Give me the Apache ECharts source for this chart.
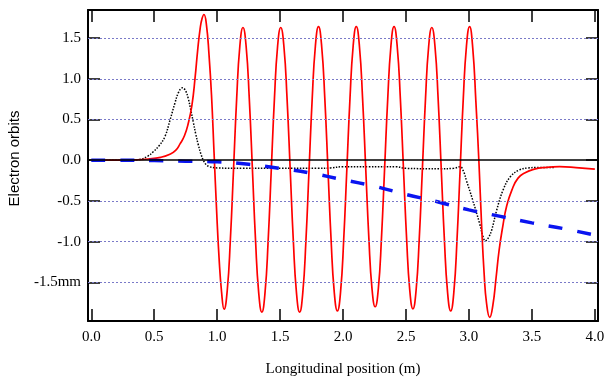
<!DOCTYPE html>
<html>
<head>
<meta charset="utf-8">
<script src="https://cdn.jsdelivr.net/npm/echarts@6/dist/echarts.min.js"></script>
<style>html,body{margin:0;padding:0;background:#fff;}#chart{width:605px;height:378px;}</style>
</head>
<body>
<div id="chart"></div>
<script>
// Tick values
const xTicks = [0, 0.5, 1.0, 1.5, 2.0, 2.5, 3.0, 3.5, 4.0];
const yTicks = [-1.5, -1.0, -0.5, 0, 0.5, 1.0, 1.5];
const gridLevels = [-1.5, -1.0, -0.5, 0.5, 1.0, 1.5];

// Red solid orbit
const redX = [0.00,0.20,0.35,0.45,0.55,0.62,0.67,0.705,0.74,0.77,0.80,0.825,0.845,0.865,0.88,0.895,
  0.915,0.935,0.955,0.975,0.995,1.015,1.035,1.055,
  1.08,1.105,1.13,1.155,1.18,1.205,1.23,1.255,1.28,1.305,1.33,1.355,
  1.38,1.405,1.43,1.455,1.48,1.505,1.53,1.555,1.58,1.605,1.63,1.655,
  1.68,1.705,1.73,1.755,1.78,1.805,1.83,1.855,1.88,1.905,1.93,1.955,
  1.98,2.005,2.03,2.055,2.08,2.105,2.13,2.155,2.18,2.205,2.23,2.255,
  2.28,2.305,2.33,2.355,2.38,2.405,2.43,2.455,2.48,2.505,2.53,2.555,
  2.58,2.605,2.63,2.655,2.68,2.705,2.73,2.755,2.78,2.805,2.83,2.855,
  2.88,2.905,2.93,2.955,2.98,3.005,3.03,3.055,3.08,3.10,3.12,3.14,3.165,
  3.19,3.215,3.24,3.27,3.30,3.34,3.39,3.45,3.52,3.60,3.72,3.85,4.00];
const redY = [0,0,0.005,0.015,0.035,0.07,0.12,0.20,0.30,0.45,0.68,1.02,1.35,1.62,1.74,1.79,
  1.66,1.30,0.80,0.10,-0.60,-1.20,-1.62,-1.83,
  -1.60,-0.97,-0.11,0.76,1.40,1.63,1.40,0.76,-0.11,-0.99,-1.63,-1.865,
  -1.63,-0.99,-0.11,0.76,1.40,1.63,1.40,0.76,-0.11,-0.99,-1.63,-1.865,
  -1.63,-0.99,-0.11,0.76,1.40,1.64,1.40,0.76,-0.11,-0.98,-1.62,-1.85,
  -1.62,-0.98,-0.11,0.76,1.40,1.64,1.40,0.76,-0.10,-0.96,-1.58,-1.80,
  -1.58,-0.96,-0.10,0.76,1.40,1.64,1.40,0.76,-0.11,-0.97,-1.60,-1.825,
  -1.60,-0.97,-0.11,0.76,1.40,1.63,1.40,0.76,-0.11,-0.98,-1.62,-1.85,
  -1.62,-0.98,-0.11,0.76,1.40,1.64,1.38,0.72,-0.05,-0.78,-1.38,-1.76,-1.93,
  -1.78,-1.45,-1.10,-0.80,-0.56,-0.37,-0.22,-0.15,-0.11,-0.09,-0.08,-0.09,-0.11];

// Black dotted orbit
const dotX = [0,0.30,0.386,0.45,0.49,0.54,0.585,0.625,0.664,0.695,0.725,0.75,0.77,0.79,0.81,0.83,0.85,0.87,0.89,0.91,0.94,
  1.0,1.2,1.5,1.8,1.9,2.0,2.2,2.42,2.5,2.77,2.88,2.93,2.96,2.98,3.03,3.085,3.11,3.13,3.155,3.18,3.22,3.27,3.33,3.40,3.47,3.535,3.68];
const dotY = [0,0,0.01,0.05,0.10,0.18,0.29,0.49,0.70,0.84,0.89,0.85,0.76,0.62,0.47,0.32,0.19,0.08,0.0,-0.05,-0.08,
  -0.095,-0.10,-0.10,-0.10,-0.095,-0.08,-0.08,-0.08,-0.10,-0.105,-0.10,-0.08,-0.15,-0.25,-0.49,-0.78,-0.93,-0.99,-0.95,-0.86,-0.615,-0.37,-0.20,-0.12,-0.095,-0.09,-0.09];

// Blue dashed orbit
const blueX = [0,0.25,0.5,0.75,1.0,1.25,1.5,1.75,2.0,2.25,2.5,2.75,3.0,3.25,3.5,3.75,4.0];
const blueY = [0,0,-0.005,-0.012,-0.02,-0.05,-0.10,-0.16,-0.24,-0.32,-0.42,-0.51,-0.61,-0.69,-0.77,-0.84,-0.92];

const zip = (xs, ys) => xs.map((x, i) => [x, ys[i]]);

const serif = 'Liberation Serif';
const chart = echarts.init(document.getElementById('chart'));
const tickStyle = { color: '#000', width: 1.5 };
chart.setOption({
  animation: false,
  backgroundColor: '#fff',
  grid: { left: 88, right: 7, top: 10, bottom: 57, containLabel: false, outerBoundsMode: 'none' },
  xAxis: [{
    type: 'value', min: -0.026, max: 4.025, position: 'bottom',
    name: 'Longitudinal position (m)', nameLocation: 'middle', nameGap: 41,
    nameTextStyle: { fontFamily: serif, fontSize: 15, color: '#000' },
    axisLine: { show: true, onZero: false, lineStyle: { color: '#000', width: 2 } },
    axisTick: { show: true, inside: true, length: 12, customValues: xTicks, lineStyle: tickStyle },
    axisLabel: { show: true, customValues: xTicks, margin: 9, fontFamily: serif, fontSize: 15, color: '#000',
      formatter: v => v.toFixed(1) },
    splitLine: { show: false }
  }, {
    type: 'value', min: -0.026, max: 4.025, position: 'top',
    axisLine: { show: true, onZero: false, lineStyle: { color: '#000', width: 2 } },
    axisTick: { show: true, inside: true, length: 12, customValues: xTicks, lineStyle: tickStyle },
    axisLabel: { show: false }, splitLine: { show: false }
  }],
  yAxis: [{
    type: 'value', min: -1.975, max: 1.845, position: 'left',
    name: 'Electron orbits', nameLocation: 'middle', nameGap: 66,
    nameTextStyle: { fontFamily: 'Liberation Sans', fontSize: 15, color: '#000', padding: [0, 0, 0, 14] },
    axisLine: { show: true, onZero: false, lineStyle: { color: '#000', width: 2 } },
    axisTick: { show: true, inside: true, length: 12, customValues: yTicks, lineStyle: tickStyle },
    axisLabel: { show: true, customValues: yTicks, margin: 7, fontFamily: serif, fontSize: 15, color: '#000',
      formatter: v => (Math.abs(v + 1.5) < 1e-9 ? '-1.5mm' : v.toFixed(1)) },
    splitLine: { show: false }
  }, {
    type: 'value', min: -1.975, max: 1.845, position: 'right',
    axisLine: { show: true, onZero: false, lineStyle: { color: '#000', width: 2 } },
    axisTick: { show: true, inside: true, length: 12, customValues: yTicks, lineStyle: tickStyle },
    axisLabel: { show: false }, splitLine: { show: false }
  }],
  series: [{
    type: 'line', data: [], silent: true, z: 1,
    markLine: {
      silent: true, symbol: 'none', label: { show: false },
      data: gridLevels.map(v => ({ yAxis: v, lineStyle: { color: '#7a7ac8', width: 1, type: [2, 2] } }))
        .concat([{ yAxis: 0, lineStyle: { color: '#000', width: 1.5, type: 'solid' } }])
    }
  }, {
    name: 'dotted', type: 'line', data: zip(dotX, dotY), showSymbol: false, smooth: 0.4, z: 2,
    lineStyle: { color: '#000', width: 1.5, type: [1.5, 1.5] }
  }, {
    name: 'red', type: 'line', data: zip(redX, redY), showSymbol: false, smooth: 0.5, z: 3,
    lineStyle: { color: '#ff0000', width: 1.7 }
  }, {
    name: 'blue', type: 'line', data: zip(blueX, blueY), showSymbol: false, smooth: 0.4, z: 4,
    lineStyle: { color: '#0a14f0', width: 3.5, type: [14, 15] }
  }]
});
</script>
</body>
</html>
